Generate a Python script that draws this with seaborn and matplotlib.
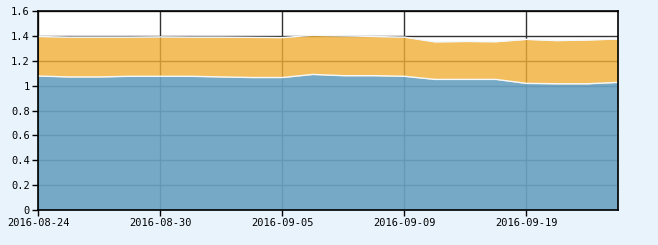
import matplotlib
matplotlib.use("Agg")
import matplotlib.pyplot as plt
import seaborn as sns
import pandas as pd
import numpy as np

dates = ["2016-08-24", "2016-08-25", "2016-08-26", "2016-08-29", "2016-08-30",
         "2016-08-31", "2016-09-01", "2016-09-02", "2016-09-05", "2016-09-06",
         "2016-09-07", "2016-09-08", "2016-09-09", "2016-09-12", "2016-09-13",
         "2016-09-14", "2016-09-19", "2016-09-20", "2016-09-21", "2016-09-22"]
lower = [1.077, 1.070, 1.070, 1.075, 1.075, 1.075, 1.070, 1.065, 1.065, 1.090,
         1.080, 1.080, 1.075, 1.050, 1.050, 1.050, 1.018, 1.015, 1.015, 1.026]
upper_part = [0.318, 0.320, 0.320, 0.315, 0.317, 0.315, 0.320, 0.323, 0.321, 0.315,
              0.320, 0.315, 0.315, 0.302, 0.305, 0.303, 0.354, 0.347, 0.352, 0.349]
tick_labels = ["2016-08-24", "2016-08-30", "2016-09-05", "2016-09-09", "2016-09-19"]
y_ticks = [0, 0.2, 0.4, 0.6, 0.8, 1, 1.2, 1.4, 1.6]
y_tick_labels = ["0", "0.2", "0.4", "0.6", "0.8", "1", "1.2", "1.4", "1.6"]

df = pd.DataFrame({"date": dates, "lower": lower, "upper": upper_part})
df["idx"] = np.arange(len(df))
df["total"] = df["lower"] + df["upper"]

sns.set_style("white")
plt.rcParams["font.family"] = ["DejaVu Sans Mono"]

fig = plt.figure(figsize=(6.58, 2.45), dpi=100)
fig.patch.set_facecolor("#e8f3fc")
ax = fig.add_axes([38 / 658, 35 / 245, 580 / 658, 199 / 245])
ax.set_facecolor("white")

# grid below fills
tick_pos = [dates.index(t) for t in tick_labels]
for p in tick_pos:
    ax.axvline(p, color="#333333", lw=1, zorder=0.5)
for v in y_ticks:
    ax.axhline(v, color="#333333", lw=1, zorder=0.5)

ax.fill_between(df["idx"], 0, df["lower"], color="#6aa2c1", alpha=0.92, lw=0, zorder=1)
ax.fill_between(df["idx"], df["lower"], df["total"], color="#f1b036", alpha=0.8, lw=0, zorder=1)
sns.lineplot(data=df, x="idx", y="lower", color="#f4f8fb", lw=1, ax=ax, zorder=2)
sns.lineplot(data=df, x="idx", y="total", color="#f4f8fb", lw=1, ax=ax, zorder=2)

ax.set_xlim(0, len(dates) - 1)
ax.set_ylim(0, 1.6)
ax.set_xticks(tick_pos)
ax.set_xticklabels(tick_labels)
ax.set_yticks(y_ticks)
ax.set_yticklabels(y_tick_labels)
ax.set_xlabel("")
ax.set_ylabel("")
ax.tick_params(axis="both", direction="out", length=4, width=1, color="black",
               labelsize=7.5, labelcolor="black", pad=2)
ax.tick_params(axis="x", bottom=True)
ax.tick_params(axis="y", left=True)
for s in ax.spines.values():
    s.set_visible(True)
    s.set_color("black")
    s.set_linewidth(1.2)
    s.set_zorder(3)

fig.savefig("out.png", dpi=100, facecolor=fig.get_facecolor())
